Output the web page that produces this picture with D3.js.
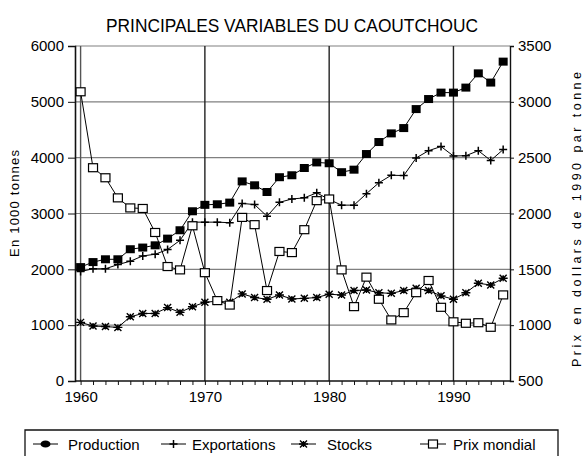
<!DOCTYPE html>
<html><head><meta charset="utf-8">
<script src="https://cdn.jsdelivr.net/npm/d3@7"></script>
<style>
body{margin:0;background:#fff;}
svg{display:block;}
text{font-family:"Liberation Sans",Arial,sans-serif;fill:#000;}
</style>
</head><body>
<svg id="c" width="583" height="456"></svg>
<script>
const years = [1960,1961,1962,1963,1964,1965,1966,1967,1968,1969,
               1970,1971,1972,1973,1974,1975,1976,1977,1978,1979,
               1980,1981,1982,1983,1984,1985,1986,1987,1988,1989,
               1990,1991,1992,1993,1994];
const production = [2040,2130,2180,2180,2360,2390,2430,2550,2700,3040,
                    3155,3165,3195,3575,3505,3385,3650,3685,3815,3915,
                    3900,3740,3785,4065,4280,4435,4530,4870,5050,5165,
                    5165,5255,5510,5345,5720];
const exportations = [1960,2010,2010,2085,2145,2240,2270,2355,2520,2845,
                      2845,2845,2835,3180,3160,2950,3200,3260,3280,3370,
                      3250,3150,3150,3355,3550,3685,3680,3995,4125,4200,
                      4030,4035,4125,3950,4145];
const stocks = [1050,985,975,960,1150,1210,1210,1315,1230,1330,
                1410,1430,1410,1560,1495,1465,1540,1470,1480,1495,
                1555,1540,1620,1630,1580,1570,1620,1660,1620,1525,
                1465,1580,1750,1720,1840];
const prixMondial = [3090,2410,2320,2140,2050,2045,1830,1525,1495,1890,
                     1470,1220,1180,1965,1900,1310,1660,1650,1855,2115,
                     2130,1495,1166,1430,1232,1047,1112,1291,1400,1160,
                     1030,1017,1022,981,1271];
const leftTicks = [0,1000,2000,3000,4000,5000,6000];
const rightTicks = [500,1000,1500,2000,2500,3000,3500];
const decadeTicks = [1960,1970,1980,1990];
const seriesNames = ["Production","Exportations","Stocks","Prix mondial"];
const titleText = "PRINCIPALES VARIABLES DU CAOUTCHOUC";
const leftTitle = "En 1000 tonnes";
const rightTitle = "Prix en dollars de 1990 par tonne";

const svg = d3.select("#c");
const x = d3.scaleLinear().domain([1959.55, 1994.55]).range([75, 510]);
const yL = d3.scaleLinear().domain([0, 6000]).range([381, 46]);
const yR = d3.scaleLinear().domain([500, 3500]).range([381, 46]);

// title
svg.append("text").attr("x", 292).attr("y", 32).attr("text-anchor", "middle")
  .attr("font-size", 19).attr("textLength", 372).attr("lengthAdjust", "spacingAndGlyphs")
  .text(titleText);

// horizontal grid
svg.append("g").selectAll("line").data(leftTicks.filter(d => d > 0)).join("line")
  .attr("x1", 75).attr("x2", 510).attr("y1", d => yL(d)).attr("y2", d => yL(d))
  .attr("stroke", "#808080").attr("stroke-width", 1.2);

// vertical decade lines
svg.append("g").selectAll("line").data(decadeTicks).join("line")
  .attr("x1", d => x(d)).attr("x2", d => x(d)).attr("y1", 46).attr("y2", 381)
  .attr("stroke", d => d === 1960 ? "#555" : "#222").attr("stroke-width", 1.4);

// left axis
const axL = svg.append("g").attr("transform", "translate(75,0)")
  .call(d3.axisLeft(yL).tickValues(leftTicks).tickSize(7).tickPadding(4).tickFormat(d3.format("d")));
axL.select(".domain").attr("stroke", "#111").attr("stroke-width", 1.6);
axL.selectAll(".tick line").attr("stroke", "#111");
axL.selectAll("text").attr("font-size", 15).attr("font-family", "Liberation Sans, Arial, sans-serif");

// right axis
const axR = svg.append("g").attr("transform", "translate(510,0)")
  .call(d3.axisRight(yR).tickValues(rightTicks).tickSize(4).tickPadding(4).tickFormat(d3.format("d")));
axR.select(".domain").attr("stroke", "#111").attr("stroke-width", 1.4);
axR.selectAll(".tick line").attr("stroke", "#111");
axR.selectAll("text").attr("font-size", 15).attr("font-family", "Liberation Sans, Arial, sans-serif");

// bottom axis
const axB = svg.append("g").attr("transform", "translate(0,381)")
  .call(d3.axisBottom(x).tickValues(years).tickSize(4).tickPadding(6)
    .tickFormat(d => decadeTicks.includes(d) ? d : ""));
axB.select(".domain").attr("stroke", "#111").attr("stroke-width", 1.4).attr("d", "M75,0H510");
axB.selectAll(".tick line").attr("stroke", "#111");
axB.selectAll("text").attr("font-size", 15).attr("font-family", "Liberation Sans, Arial, sans-serif");

// axis titles
svg.append("text").attr("transform", "translate(19,203.5) rotate(-90)").attr("text-anchor", "middle")
  .attr("font-size", 13).attr("textLength", 107).attr("lengthAdjust", "spacing").text(leftTitle);
svg.append("text").attr("transform", "translate(581,219.5) rotate(-90)").attr("text-anchor", "middle")
  .attr("font-size", 12.5).attr("textLength", 295).attr("lengthAdjust", "spacing").text(rightTitle);

// series
const mk = (vals, ys) => years.map((yr, i) => [x(yr), ys(vals[i])]);
const line = d3.line();
const series = [
  {name: seriesNames[0], pts: mk(production, yL), type: "fsq"},
  {name: seriesNames[1], pts: mk(exportations, yL), type: "plus"},
  {name: seriesNames[2], pts: mk(stocks, yL), type: "star"},
  {name: seriesNames[3], pts: mk(prixMondial, yR), type: "osq"}
];

function marker(g, type, cx, cy, legend) {
  if (type === "fsq") {
    if (legend) g.append("ellipse").attr("cx", cx).attr("cy", cy).attr("rx", 5).attr("ry", 3.6).attr("fill", "#000");
    else g.append("rect").attr("x", cx - 4.5).attr("y", cy - 4).attr("width", 9).attr("height", 8).attr("fill", "#000");
  } else if (type === "osq") {
    g.append("rect").attr("x", cx - 4.5).attr("y", cy - 4).attr("width", 9).attr("height", 8)
      .attr("fill", "#fff").attr("stroke", "#000").attr("stroke-width", 1.2);
  } else if (type === "plus") {
    g.append("path").attr("d", `M${cx-4},${cy}H${cx+4}M${cx},${cy-4}V${cy+4}`)
      .attr("stroke", "#000").attr("stroke-width", 1.5);
  } else {
    g.append("path").attr("d", `M${cx-4.5},${cy}H${cx+4.5}M${cx-3.5},${cy-3.5}L${cx+3.5},${cy+3.5}M${cx-3.5},${cy+3.5}L${cx+3.5},${cy-3.5}M${cx},${cy-3}V${cy+3}`)
      .attr("stroke", "#000").attr("stroke-width", 1.4);
  }
}

series.forEach(s => {
  const g = svg.append("g");
  g.append("path").attr("d", line(s.pts)).attr("fill", "none").attr("stroke", "#000").attr("stroke-width", 1);
  s.pts.forEach(p => marker(g, s.type, p[0], p[1], false));
});

// legend
const lg = svg.append("g");
lg.append("path").attr("d", "M25,456V430H558V456").attr("fill", "none").attr("stroke", "#111").attr("stroke-width", 1.3);
const legendPos = [
  {x1: 33, x2: 58, text: 68},
  {x1: 161, x2: 186, text: 192},
  {x1: 291, x2: 316, text: 327},
  {x1: 420, x2: 446, text: 453}
];
series.forEach((s, i) => {
  const p = legendPos[i];
  lg.append("line").attr("x1", p.x1).attr("x2", p.x2).attr("y1", 444).attr("y2", 444)
    .attr("stroke", "#000").attr("stroke-width", 1);
  marker(lg, s.type, (p.x1 + p.x2) / 2, 444, true);
  lg.append("text").attr("x", p.text).attr("y", 449.5).attr("font-size", 15).text(s.name);
});
</script>
</body></html>
